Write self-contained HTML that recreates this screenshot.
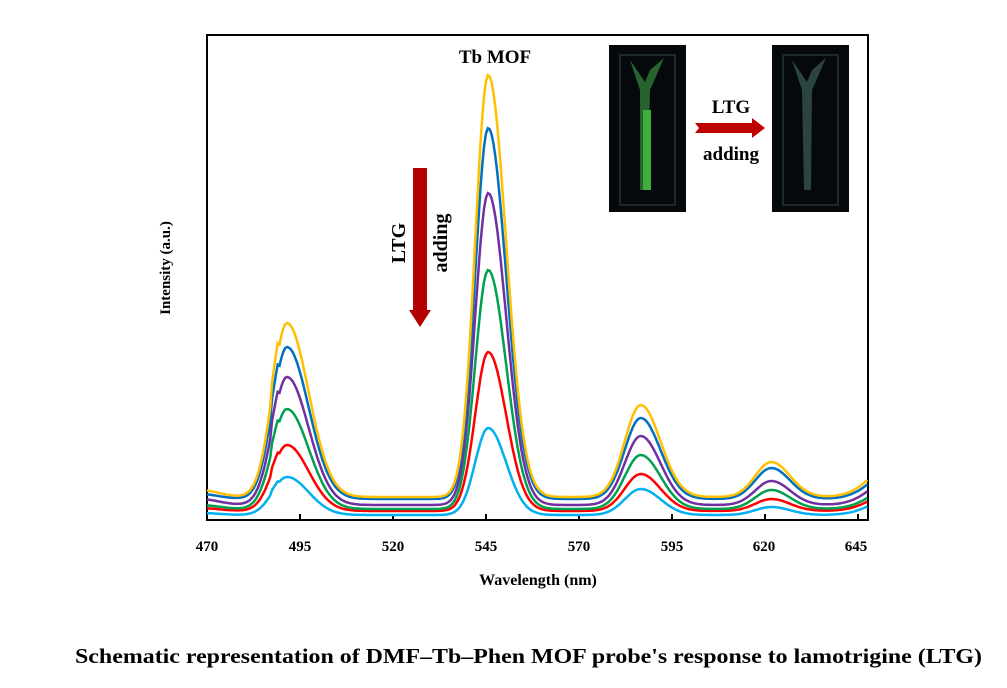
<!DOCTYPE html>
<html><head><meta charset="utf-8"><style>
body{margin:0;background:#fff;width:1007px;height:683px;overflow:hidden;font-family:"Liberation Serif",serif;}
</style></head><body>
<svg width="1007" height="683" xmlns="http://www.w3.org/2000/svg" font-family="Liberation Serif, serif" font-weight="bold">
<rect x="207" y="35" width="661" height="485" fill="none" stroke="#000" stroke-width="2"/>
<g stroke="#000" stroke-width="2">
<line x1="207" y1="520" x2="207" y2="514"/><line x1="300" y1="520" x2="300" y2="514"/><line x1="393" y1="520" x2="393" y2="514"/><line x1="486" y1="520" x2="486" y2="514"/><line x1="579" y1="520" x2="579" y2="514"/><line x1="672" y1="520" x2="672" y2="514"/><line x1="765" y1="520" x2="765" y2="514"/><line x1="858" y1="520" x2="858" y2="514"/>
</g>
<g font-size="15" text-anchor="middle">
<text x="207" y="551">470</text><text x="300" y="551">495</text><text x="393" y="551">520</text>
<text x="486" y="551">545</text><text x="579" y="551">570</text><text x="672" y="551">595</text>
<text x="764" y="551">620</text><text x="856" y="551">645</text>
</g>
<text x="538" y="585" font-size="16" text-anchor="middle">Wavelength  (nm)</text>
<text transform="translate(170,268) rotate(-90)" font-size="15" text-anchor="middle">Intensity (a.u.)</text>
<text x="495" y="63" font-size="19" text-anchor="middle">Tb MOF</text>
<g id="curves" fill="none" stroke-width="2.5"></g>
<polygon points="413,168 427,168 427,310 431,310 420,327 409,310 413,310" fill="#b30000"/>
<text transform="translate(405,243) rotate(-90)" font-size="20" text-anchor="middle">LTG</text>
<text transform="translate(447,243) rotate(-90)" font-size="20" text-anchor="middle">adding</text>
<rect x="609" y="45" width="77" height="167" fill="#05090c"/>
<rect x="620" y="55" width="55" height="150" fill="none" stroke="#1d2a24" stroke-width="2"/>
<path d="M630 60 L640 90 L640 190 L648 190 L650 90 L664 58 L650 70 L645 82 Z" fill="#2f7a38" opacity="0.8"/>
<rect x="643" y="110" width="8" height="80" fill="#3fae3f"/>
<rect x="772" y="45" width="77" height="167" fill="#05090c"/>
<rect x="783" y="55" width="55" height="150" fill="none" stroke="#1d2a2a" stroke-width="2"/>
<path d="M792 60 L802 90 L804 190 L811 190 L812 90 L826 58 L812 70 L807 82 Z" fill="#3c5e5a" opacity="0.7"/>
<text x="731" y="113" font-size="19" text-anchor="middle">LTG</text>
<polygon points="695,123 752,123 752,118 765,128 752,138 752,133 695,133 699,128" fill="#c00000"/>
<text x="731" y="160" font-size="19" text-anchor="middle">adding</text>
<text x="75" y="663" font-size="21" textLength="907" lengthAdjust="spacingAndGlyphs">Schematic representation of DMF–Tb–Phen MOF probe's response to lamotrigine (LTG)</text>
</svg>
<script>
var X=function(w){return 207+(w-470)*3.72;};
var series=[
['#00b0f0',515,38,87,26,8,20,2],
['#ff0000',511,66,159,37,12,22,3],
['#00a050',509,100,239,54,19,26,4],
['#7030a0',505,128,312,69,24,32,6],
['#0070c0',499,152,371,81,31,34,5],
['#ffc000',497,174,422,92,35,40,7]];
function g(x,m,sl,sr){var sd=x<m?sl:sr;return Math.exp(-(x-m)*(x-m)/(2*sd*sd));}
var h='';
series.forEach(function(p){
 var d='';
 for(var w=470;w<=647.6;w+=0.5){
  var y=p[1]-p[2]*g(w,491.5,3.9,5.8)
   -p[3]*g(w,545.6,3.5,4.8)-p[4]*g(w,586.6,4.3,5.3)-p[5]*g(w,621.7,4.3,5)
   -p[6]*g(w,656,6.5,6.5)-p[7]*g(w,468,5,5);
  if(w>=487.5&&w<=489){y-=p[2]*0.07;}
  d+=(d?'L':'M')+X(w).toFixed(1)+' '+y.toFixed(1);
 }
 h+='<path d="'+d+'" stroke="'+p[0]+'"/>';
});
document.getElementById('curves').innerHTML=h;
</script>
</body></html>
